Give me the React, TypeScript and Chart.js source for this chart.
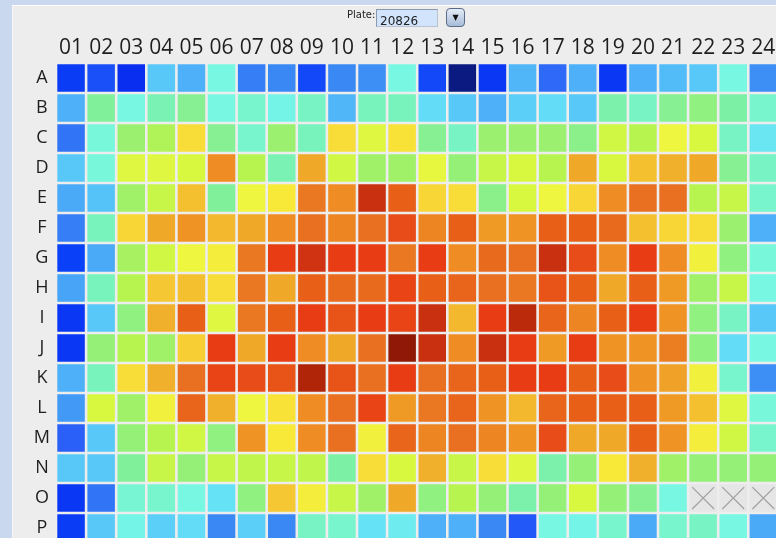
import React, { useEffect, useRef } from 'react';
import { Chart, registerables } from 'chart.js';

Chart.register(...registerables);

const plateId = '20826';
const colLabels = ['01', '02', '03', '04', '05', '06', '07', '08', '09', '10', '11', '12', '13', '14', '15', '16', '17', '18', '19', '20', '21', '22', '23', '24'];
const rowLabels = ['A', 'B', 'C', 'D', 'E', 'F', 'G', 'H', 'I', 'J', 'K', 'L', 'M', 'N', 'O', 'P'];

// well signal, 0 (low) .. 100 (high); null = empty well
const rowA = [9, 12, 6, 29, 25, 38, 17, 18, 11, 18, 19, 38, 11, 0, 8, 26, 15, 25, 8, 25, 27, 29, 38, 19];
const rowB = [25, 47, 38, 44, 48, 38, 41, 37, 42, 26, 43, 43, 32, 29, 25, 30, 32, 29, 45, 42, 48, 50, 46, 41];
const rowC = [16, 39, 52, 55, 68, 48, 41, 52, 43, 68, 61, 67, 48, 42, 52, 52, 52, 49, 59, 56, 63, 60, 42, 34];
const rowD = [29, 39, 61, 61, 60, 79, 56, 44, 75, 59, 53, 53, 62, 51, 58, 60, 56, 75, 60, 72, 74, 75, 48, 42];
const rowE = [24, 28, 53, 58, 72, 47, 63, 66, 82, 79, 95, 86, 69, 68, 49, 60, 63, 69, 79, 83, 83, 56, 58, 41];
const rowF = [17, 43, 69, 75, 78, 73, 75, 79, 83, 80, 83, 89, 80, 86, 77, 78, 86, 86, 84, 72, 69, 68, 52, 25];
const rowG = [10, 24, 54, 59, 63, 65, 82, 91, 94, 91, 91, 82, 91, 79, 84, 83, 95, 89, 79, 91, 79, 64, 50, 39];
const rowH = [23, 43, 56, 71, 72, 68, 82, 75, 86, 84, 84, 90, 86, 85, 83, 82, 88, 86, 75, 86, 77, 53, 58, 38];
const rowI = [8, 29, 50, 74, 86, 61, 82, 86, 91, 88, 91, 90, 95, 73, 91, 96, 85, 80, 86, 91, 78, 50, 42, 29];
const rowJ = [8, 51, 56, 53, 70, 91, 75, 91, 79, 75, 83, 100, 95, 79, 95, 91, 77, 91, 78, 78, 81, 50, 32, 38];
const rowK = [25, 43, 68, 74, 83, 90, 89, 88, 97, 88, 83, 91, 83, 85, 86, 91, 91, 86, 89, 78, 76, 64, 41, 19];
const rowL = [21, 60, 53, 64, 85, 74, 63, 67, 79, 83, 90, 77, 82, 85, 78, 73, 85, 86, 86, 86, 77, 72, 61, 39];
const rowM = [14, 29, 51, 56, 59, 50, 78, 66, 79, 83, 64, 85, 80, 83, 80, 78, 89, 75, 75, 86, 78, 65, 59, 41];
const rowN = [29, 29, 47, 58, 51, 58, 57, 58, 57, 46, 68, 60, 74, 58, 68, 61, 45, 51, 66, 74, 53, 51, 51, 51];
const rowO = [8, 16, 40, 41, 38, 33, 50, 71, 65, 58, 53, 75, 50, 56, 51, 45, 51, 60, 51, 48, 38, null, null, null];
const rowP = [9, 29, 37, 30, 32, 18, 30, 18, 42, 41, 33, 35, 25, 25, 18, 13, 38, 37, 41, 24, 41, 42, 38, 24];

const colorStops: [number, string][] = [
  [0, '#0a1a80'], [6, '#0a2ef0'], [10, '#0a40f8'], [14, '#2a60f8'], [18, '#3a88f4'],
  [24, '#4aaaf8'], [29, '#58c8f8'], [33, '#66e2f6'], [38, '#78f8e2'], [42, '#78f4c4'],
  [46, '#7cf0a4'], [50, '#90f080'], [53, '#a0f068'], [56, '#b8f450'], [60, '#d8f840'],
  [63, '#eef640'], [66, '#f8e838'], [69, '#f8d636'], [72, '#f4c030'], [75, '#f0a828'],
  [79, '#f08c24'], [83, '#e87020'], [86, '#e86018'], [89, '#e84c18'], [91, '#e83c14'],
  [95, '#c83010'], [97, '#b02408'], [100, '#901806'],
];

function hexToRgb(h: string): number[] {
  return [1, 3, 5].map((i) => parseInt(h.slice(i, i + 2), 16));
}

function colorFor(v: number | null): string {
  if (v === null) return '#e6e6e6';
  for (let i = 1; i < colorStops.length; i++) {
    const [v1, c1] = colorStops[i];
    const [v0, c0] = colorStops[i - 1];
    if (v <= v1) {
      const t = (v - v0) / (v1 - v0);
      const a = hexToRgb(c0);
      const b = hexToRgb(c1);
      const m = a.map((x, k) => Math.round(x + (b[k] - x) * t));
      return `rgb(${m[0]},${m[1]},${m[2]})`;
    }
  }
  return colorStops[colorStops.length - 1][1];
}

export default function App() {
  const ref = useRef<HTMLCanvasElement>(null);

  useEffect(() => {
    const rows = [rowA, rowB, rowC, rowD, rowE, rowF, rowG, rowH, rowI, rowJ, rowK, rowL, rowM, rowN, rowO, rowP];
    const half = 0.458;
    const datasets: any[] = rows.map((vals, r) => ({
      type: 'bar',
      label: rowLabels[r],
      data: vals.map(() => [r - half, r + half]),
      backgroundColor: vals.map(colorFor),
      borderWidth: 0,
      grouped: false,
      categoryPercentage: 1,
      barPercentage: 0.914,
      order: 1,
    }));
    const empties: { x: string; y: number }[] = [];
    rows.forEach((vals, r) =>
      vals.forEach((v, c) => {
        if (v === null) empties.push({ x: colLabels[c], y: r });
      })
    );
    datasets.push({
      type: 'scatter',
      label: 'empty',
      data: empties,
      pointStyle: 'crossRot',
      pointRadius: 15.5,
      pointHoverRadius: 15.5,
      borderColor: '#a0a0a0',
      borderWidth: 1.2,
      backgroundColor: 'transparent',
      showLine: false,
      order: 0,
    });

    const chart = new Chart(ref.current as HTMLCanvasElement, {
      type: 'bar',
      data: { labels: colLabels, datasets },
      options: {
        responsive: false,
        animation: false,
        devicePixelRatio: 1,
        events: [],
        layout: { padding: { left: 0, top: 0, right: 21.6, bottom: 16.95 } },
        plugins: { legend: { display: false }, tooltip: { enabled: false } },
        scales: {
          x: {
            type: 'category',
            position: 'top',
            offset: true,
            grid: { display: false, drawTicks: false },
            border: { display: false },
            ticks: {
              font: { family: 'Open Sans', size: 21 },
              color: '#1e1e1e',
              padding: 2,
              maxRotation: 0,
              autoSkip: false,
            },
            afterFit: (s: any) => {
              s.height = 63.05;
            },
          },
          y: {
            type: 'linear',
            reverse: true,
            min: -0.5,
            max: 15.5,
            afterBuildTicks: (s: any) => {
              s.ticks = rowLabels.map((_, i) => ({ value: i }));
            },
            grid: { display: false, drawTicks: false },
            border: { display: false },
            ticks: {
              callback: (v: any) => rowLabels[v] ?? '',
              font: { family: 'Open Sans', size: 18 },
              color: '#1e1e1e',
              crossAlign: 'center',
              padding: 6,
              autoSkip: false,
            },
            afterFit: (s: any) => {
              s.width = 56;
            },
          },
        },
      } as any,
    });
    return () => chart.destroy();
  }, []);

  return (
    <div
      style={{
        position: 'absolute',
        left: 0,
        top: 0,
        width: 776,
        height: 538,
        overflow: 'hidden',
        background: '#c9d7ef',
      }}
    >
      <div
        style={{
          position: 'absolute',
          left: 12,
          top: 5,
          right: 0,
          bottom: 0,
          background: '#ededed',
          borderTop: '1px solid #ffffff',
          borderLeft: '1px solid #f6f6f6',
        }}
      />
      <canvas ref={ref} width={800} height={560} style={{ position: 'absolute', left: 0, top: 0 }} />
      <div
        style={{
          position: 'absolute',
          left: 347,
          top: 9,
          fontFamily: 'DejaVu Sans, sans-serif',
          fontSize: 10,
          color: '#222',
        }}
      >
        Plate:
      </div>
      <div
        style={{
          position: 'absolute',
          left: 376,
          top: 9,
          width: 62,
          height: 18,
          background: '#d2e4fb',
          borderTop: '1px solid #8a98ac',
          borderLeft: '1px solid #8a98ac',
          borderRight: '1px solid #b8c4d4',
          borderBottom: '1px solid #b8c4d4',
          fontFamily: 'DejaVu Sans, sans-serif',
          fontSize: 12,
          color: '#222',
          lineHeight: '22px',
          paddingLeft: 3,
          boxSizing: 'border-box',
        }}
      >
        {plateId}
      </div>
      <div
        style={{
          position: 'absolute',
          left: 446,
          top: 8,
          width: 19,
          height: 19,
          boxSizing: 'border-box',
          borderRadius: 4,
          border: '1px solid #5a6a88',
          background: 'linear-gradient(#e4ecf8, #a8bcd8)',
          color: '#111',
          fontSize: 8,
          lineHeight: '17px',
          textAlign: 'center',
          fontFamily: 'DejaVu Sans, sans-serif',
        }}
      >
        ▼
      </div>
    </div>
  );
}
